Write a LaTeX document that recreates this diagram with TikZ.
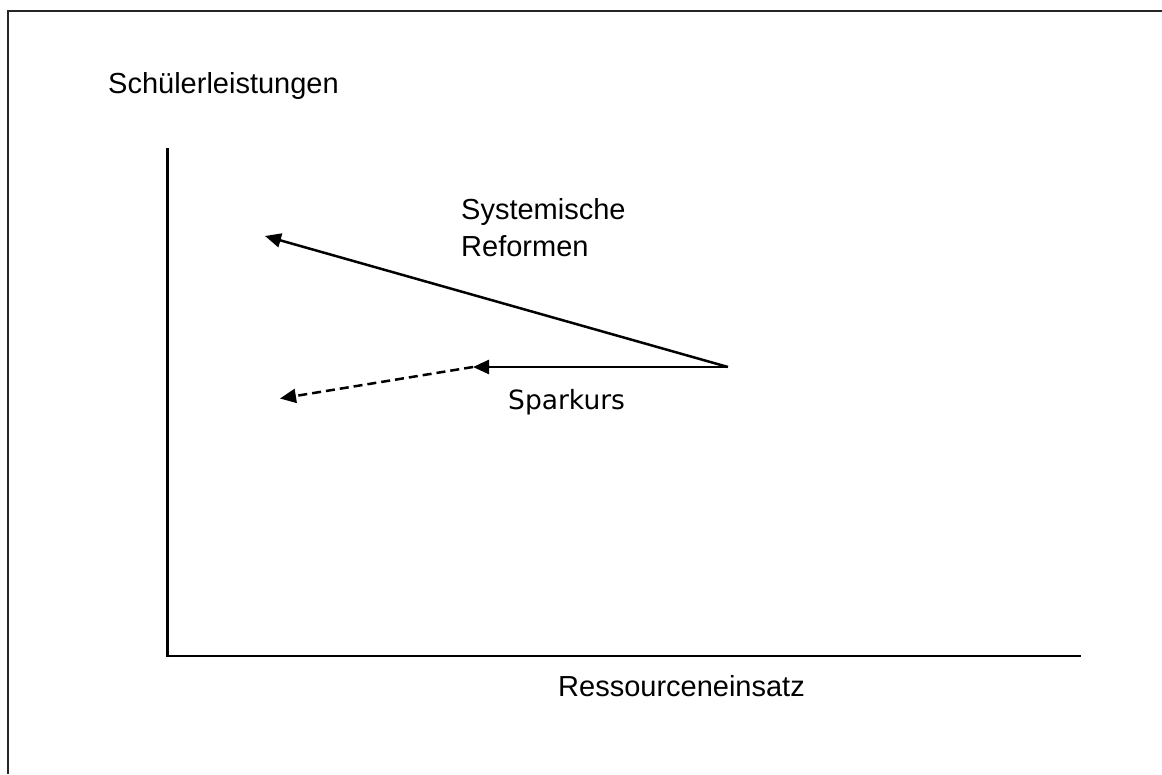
\documentclass[tikz,border=0pt]{standalone}
\usepackage{fontspec}
\setmainfont{Liberation Sans}
\newfontfamily\sparfont{DejaVu Sans}
\usetikzlibrary{arrows.meta}
\begin{document}
\begin{tikzpicture}[x=1pt,y=-1pt,
  label/.style={inner sep=0pt,font=\fontsize{29}{37.5}\selectfont},
  axis/.style={line width=2.6pt,line join=miter},
  frameline/.style={line width=2.4pt,draw=black!85},
  move/.style={line width=2.5pt,-{Triangle[length=16pt,width=14pt]}},
  movedash/.style={move,dash pattern=on 9pt off 5pt}]
\useasboundingbox (0,0) rectangle (1162,774);
% outer frame
\draw[frameline] (8,774) -- (8,11) -- (1162,11);
% axes
\coordinate (ytop) at (167.5,148);
\coordinate (orig) at (167.5,656);
\coordinate (xend) at (1081,656);
\draw[axis] (ytop) -- (orig) -- (xend);
% axis labels
\node[label,anchor=base west] (ylab) at (108,93) {Schülerleistungen};
\node[label,anchor=base west] (xlab) at (558,696) {Ressourceneinsatz};
% moves from the starting point
\coordinate (start) at (728,367);
\coordinate (reftip) at (265,236);
\coordinate (sparmid) at (473,367);
\coordinate (spartip) at (280,398.5);
\draw[move] (start) -- (reftip);
\draw[move] (start) -- (sparmid);
\draw[movedash] (sparmid) -- (spartip);
% base anchor of a two-line node sits on its last line
\node[label,anchor=base west,align=left] (reflab) at (461,256.5) {Systemische\\Reformen};
\node[inner sep=0pt,anchor=base west,font=\sparfont\fontsize{26.5}{30}\selectfont] (sparlab) at (508,409) {Sparkurs};
\end{tikzpicture}
\end{document}
